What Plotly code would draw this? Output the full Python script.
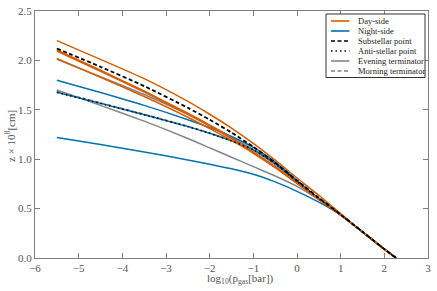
import plotly.graph_objects as go

# log10 pressure grid (bar)
log_p = [-5.5, -4.5, -3.5, -2.5, -2.0, -1.5, -1.0, -0.5, 0.0, 0.5, 1.0, 1.5, 2.0, 2.27]

# altitude z [1e8 cm]
day_side = [
    [2.20, 2.01, 1.815, 1.585, 1.455, 1.315, 1.16, 0.99, 0.81, 0.635, 0.45, 0.265, 0.09, 0.0],
    [2.105, 1.90, 1.69, 1.465, 1.345, 1.215, 1.075, 0.925, 0.76, 0.595, 0.435, 0.265, 0.09, 0.0],
    [2.095, 1.89, 1.68, 1.455, 1.335, 1.207, 1.07, 0.92, 0.757, 0.593, 0.435, 0.265, 0.09, 0.0],
    [2.02, 1.83, 1.635, 1.425, 1.31, 1.19, 1.06, 0.915, 0.755, 0.592, 0.435, 0.265, 0.09, 0.0],
]
night_side = [
    [1.80, 1.675, 1.545, 1.40, 1.32, 1.23, 1.12, 0.97, 0.785, 0.603, 0.437, 0.265, 0.09, 0.0],
    [1.677, 1.565, 1.45, 1.33, 1.262, 1.185, 1.095, 0.955, 0.775, 0.60, 0.437, 0.265, 0.09, 0.0],
    [1.22, 1.148, 1.073, 0.993, 0.95, 0.903, 0.848, 0.77, 0.675, 0.565, 0.435, 0.265, 0.09, 0.0],
]
substellar = [2.12, 1.935, 1.74, 1.52, 1.40, 1.27, 1.125, 0.965, 0.785, 0.61, 0.44, 0.265, 0.09, 0.0]
antistellar = [1.677, 1.565, 1.45, 1.33, 1.262, 1.185, 1.095, 0.955, 0.775, 0.60, 0.437, 0.265, 0.09, 0.0]
evening_term = [
    [2.01, 1.835, 1.655, 1.455, 1.345, 1.225, 1.095, 0.945, 0.775, 0.603, 0.437, 0.265, 0.09, 0.0],
    [1.70, 1.545, 1.385, 1.21, 1.115, 1.02, 0.925, 0.83, 0.725, 0.59, 0.435, 0.265, 0.09, 0.0],
]
morning_term = [1.685, 1.571, 1.455, 1.334, 1.265, 1.187, 1.097, 0.957, 0.776, 0.601, 0.437, 0.265, 0.09, 0.0]

x_ticks = [-6, -5, -4, -3, -2, -1, 0, 1, 2, 3]
y_ticks = [0.0, 0.5, 1.0, 1.5, 2.0, 2.5]

legend_names = ["Day-side", "Night-side", "Substellar point", "Anti-stellar point",
                "Evening terminator", "Morning terminator"]

ORANGE = "#D55E00"
BLUE = "#0072B2"
GRAY = "#858585"
BLACK = "#000000"
DASH = "4px,2.5px"
DOT = "1.5px,3px"

styles = {
    "Day-side": (ORANGE, "solid"),
    "Night-side": (BLUE, "solid"),
    "Substellar point": (BLACK, DASH),
    "Anti-stellar point": (BLACK, DOT),
    "Evening terminator": (GRAY, "solid"),
    "Morning terminator": (GRAY, DASH),
}

fig = go.Figure()

def add(y, name, width=1.5):
    color, dash = styles[name]
    fig.add_trace(go.Scatter(
        x=log_p, y=y, mode="lines", name=name, showlegend=False,
        line=dict(color=color, width=width, dash=dash, shape="spline", smoothing=0.6),
    ))

for y in evening_term:
    add(y, "Evening terminator")
add(morning_term, "Morning terminator")
for y in night_side:
    add(y, "Night-side")
for y in day_side:
    add(y, "Day-side")
add(substellar, "Substellar point", width=1.8)
add(antistellar, "Anti-stellar point", width=1.6)

# ---- manual compact legend (paper coords) ----
PL, PR, PT, PB = 35, 428, 11, 258  # plot-area pixel box
def px_x(p):
    return (p - PL) / (PR - PL)
def px_y(p):
    return (PB - p) / (PB - PT)

FONT = "Liberation Serif"
shapes = [dict(type="rect", xref="paper", yref="paper",
               x0=px_x(326), x1=px_x(425), y0=px_y(77.5), y1=px_y(14),
               line=dict(color="#333333", width=1), fillcolor="white", layer="above")]
annotations = []
for i, name in enumerate(legend_names):
    color, dash = styles[name]
    yy = px_y(21 + 10 * i)
    shapes.append(dict(type="line", xref="paper", yref="paper",
                       x0=px_x(331), x1=px_x(349.5), y0=yy, y1=yy,
                       line=dict(color=color, width=1.6, dash=dash), layer="above"))
    annotations.append(dict(text=name, xref="paper", yref="paper", x=px_x(356), y=yy,
                            xanchor="left", yanchor="middle", showarrow=False,
                            font=dict(family=FONT, size=8.5, color="#222222")))

annotations.append(dict(text="log<sub>10</sub>(p<sub>gas</sub>[bar])", xref="paper", yref="paper",
                        x=px_x(240), y=px_y(279), xanchor="center", yanchor="middle", showarrow=False,
                        font=dict(family=FONT, size=11, color="#555555")))
annotations.append(dict(text="z \u00d7 10<sup>8</sup>[cm]", xref="paper", yref="paper",
                        x=px_x(10), y=px_y(136), xanchor="center", yanchor="middle", showarrow=False,
                        textangle=-90, font=dict(family=FONT, size=11, color="#555555")))

axis_common = dict(
    showgrid=False, zeroline=False, showline=True, linecolor="#7f7f7f", linewidth=1.2,
    mirror="ticks", ticks="inside", ticklen=5, tickwidth=1, tickcolor="#7f7f7f",
    tickfont=dict(family=FONT, size=11, color="#555555"), automargin=False,
)

fig.update_layout(
    width=437, height=291,
    margin=dict(l=PL, r=437 - PR, t=PT, b=291 - PB),
    paper_bgcolor="white", plot_bgcolor="white",
    font=dict(family=FONT, color="#555555"),
    xaxis=dict(range=[-6, 3], tickvals=x_ticks,
               ticktext=[("\u2212" + str(-v)) if v < 0 else str(v) for v in x_ticks],
               **axis_common),
    yaxis=dict(range=[0, 2.5], tickvals=y_ticks, ticktext=[f"{v:.1f}" for v in y_ticks],
               **axis_common),
    shapes=shapes, annotations=annotations,
    showlegend=False,
)

fig.write_html("out.html", config={"displayModeBar": False},
               post_script="document.body.style.margin='0';document.body.style.overflow='hidden';")
